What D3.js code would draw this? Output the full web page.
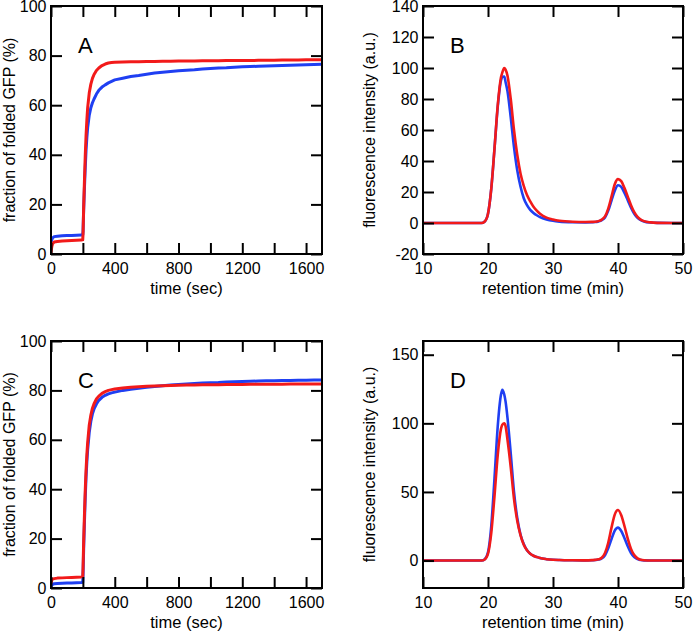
<!DOCTYPE html>
<html>
<head>
<meta charset="utf-8">
<script src="https://cdn.jsdelivr.net/npm/d3@7"></script>
<style>
  html, body { margin: 0; padding: 0; background: #fff; }
  svg { display: block; font-family: "Liberation Sans", Arial, Helvetica, sans-serif; }
</style>
</head>
<body>
<svg id="chart" width="693" height="634"></svg>
<script>
// ---------------- DATA ----------------
// Panels A and C: folding kinetics, time (sec)
const timeAC = [0,5,10,20,40,70,100,130,160,190,199,201,205,210,215,220,225,230,240,250,260,270,285,300,320,340,360,380,400,450,500,550,600,650,700,750,800,850,900,950,1000,1050,1100,1150,1200,1250,1300,1350,1400,1450,1500,1550,1600,1650,1700];
const aBlue = [4.5,5.8,6.5,7.0,7.2,7.4,7.5,7.5,7.6,7.7,7.7,9,18,27,35,42,47,51,56,59,61,62.5,64.5,66,67.3,68.2,69,69.6,70.2,70.9,71.6,72,72.5,73,73.3,73.6,73.9,74.1,74.3,74.6,74.8,75,75.1,75.3,75.5,75.6,75.7,75.8,75.9,76,76.1,76.2,76.3,76.4,76.5];
const aRed  = [0.5,3,4.2,4.8,5.0,5.2,5.3,5.4,5.5,5.6,5.7,8,19,30,40,48,54,59,65,68.5,70.8,72.4,74,75,76,76.6,77,77.2,77.3,77.4,77.5,77.5,77.6,77.6,77.7,77.7,77.8,77.8,77.8,77.9,77.9,77.9,78,78,78,78,78.1,78.1,78.1,78.2,78.2,78.2,78.3,78.3,78.3];
const cBlue = [0.5,1.2,1.5,1.7,1.8,1.9,2.0,2.0,2.1,2.2,2.3,5,16,27,37,45,51,56,63,67.5,70.5,72.5,74.5,76,77.2,78,78.6,79,79.3,80,80.5,80.9,81.3,81.6,81.9,82.2,82.4,82.6,82.8,83,83.1,83.2,83.4,83.5,83.6,83.7,83.8,83.9,83.9,84,84,84.1,84.1,84.2,84.2];
const cRed  = [2,3.2,3.6,3.8,4.0,4.1,4.2,4.3,4.4,4.5,4.6,8,19,30,40,48,54,59,66,70,72.8,74.6,76.5,77.7,78.8,79.5,80,80.3,80.6,81,81.3,81.5,81.7,81.8,81.9,82,82.1,82.2,82.2,82.3,82.3,82.3,82.4,82.4,82.4,82.5,82.5,82.5,82.5,82.5,82.6,82.6,82.6,82.6,82.6];

// Panels B and D: chromatograms, retention time (min)
const timeBD = [10,15,18,19,19.5,20,20.5,21,21.5,22,22.2,22.5,22.7,23,23.5,24,24.5,25,25.5,26,26.5,27,27.5,28,29,30,31,33,35,36,36.5,37,37.5,38,38.5,39,39.5,40,40.5,41,41.5,42,42.5,43,43.5,44,45,46,50];
const bBlue = [0,0,0,0,1,6,22,48,75,92,94.3,94.5,91,85,68,49,34,23.5,16,11.5,8.5,6.5,5,3.8,2.3,1.4,0.9,0.5,0.4,0.5,0.6,1.0,1.8,3.6,8,14.5,20.8,24.4,23.3,19.4,14.7,9.9,6,3.4,1.9,1,0.3,0.1,0];
const bRed  = [0,0,0,0,1,6,22,48,76,94,97,100,99,95,80,60,44,32,24,18,14,10.5,8,6,3.5,2.3,1.5,0.8,0.6,0.7,0.8,1.2,2.2,4.3,9.3,17,25,28.3,27,22.5,17,11.5,7,4,2.2,1.2,0.4,0.1,0];
const dBlue = [0,0,0,0,1,6,25,60,98,121,124.5,121,116,104,78,50,31,19,12,7.5,5,3.5,2.6,1.8,1,0.6,0.4,0.2,0.1,0.2,0.4,0.7,1.5,3.8,9,15.6,21.8,24,21.5,16.3,10.4,5.5,2.6,1,0.4,0.1,0,0,0];
const dRed  = [0,0,0,0,0.8,5,20,47,77,96,99,100,98,88,68,45,29,18.5,11.5,7.5,5,3.5,2.6,1.8,1,0.6,0.4,0.2,0.1,0.3,0.5,0.9,2,5.5,13,24,33.5,36.8,33,25,16,8.5,4,1.6,0.6,0.2,0,0,0];

// Tick values / labels
const ticksTimeX   = [0,200,400,600,800,1000,1200,1400,1600];
const labelsTimeX  = [0,400,800,1200,1600];
const ticksFracY   = [0,20,40,60,80,100];
const ticksRetX    = [10,20,30,40,50];
const ticksBY      = [-20,0,20,40,60,80,100,120,140];
const ticksDY      = [0,50,100,150];

// ---------------- LAYOUT ----------------
const svg = d3.select("#chart");
const BLUE = "#1f3ff2", RED = "#f21a1a";

const panels = [
  {letter:"A", l:51, r:322, t:6,   b:254, xd:[0,1700], yd:[0,100], xt:ticksTimeX, xl:labelsTimeX, yt:ticksFracY,
   xlab:"time (sec)", ylab:"fraction of folded GFP (%)", t0:timeAC, blue:aBlue, red:aRed, sw:3, curve:d3.curveLinear, ylx:15},
  {letter:"B", l:423, r:683, t:6, b:254, xd:[10,50], yd:[-20,140], xt:ticksRetX, xl:ticksRetX, yt:ticksBY,
   xlab:"retention time (min)", ylab:"fluorescence intensity (a.u.)", t0:timeBD, blue:bBlue, red:bRed, sw:2.6, curve:d3.curveMonotoneX, ylx:375},
  {letter:"C", l:51, r:322, t:341, b:588, xd:[0,1700], yd:[0,100], xt:ticksTimeX, xl:labelsTimeX, yt:ticksFracY,
   xlab:"time (sec)", ylab:"fraction of folded GFP (%)", t0:timeAC, blue:cBlue, red:cRed, sw:3, curve:d3.curveLinear, ylx:15},
  {letter:"D", l:423, r:683, t:341, b:588, xd:[10,50], yd:[-20,160], xt:ticksRetX, xl:ticksRetX, yt:ticksDY,
   xlab:"retention time (min)", ylab:"fluorescence intensity (a.u.)", t0:timeBD, blue:dBlue, red:dRed, sw:2.6, curve:d3.curveMonotoneX, ylx:375}
];

panels.forEach(p => {
  const x = d3.scaleLinear().domain(p.xd).range([p.l, p.r]);
  const y = d3.scaleLinear().domain(p.yd).range([p.b, p.t]);
  const g = svg.append("g");

  const clipId = "clip" + p.letter;
  svg.append("clipPath").attr("id", clipId).append("rect")
    .attr("x", p.l).attr("y", p.t).attr("width", p.r - p.l).attr("height", p.b - p.t);

  const line = d3.line().x((d,i) => x(p.t0[i])).y(d => y(d)).curve(p.curve);
  const plot = g.append("g").attr("clip-path", `url(#${clipId})`);
  plot.append("path").datum(p.blue).attr("d", line).attr("fill","none")
    .attr("stroke", BLUE).attr("stroke-width", p.sw).attr("stroke-linejoin","round");
  plot.append("path").datum(p.red).attr("d", line).attr("fill","none")
    .attr("stroke", RED).attr("stroke-width", p.sw).attr("stroke-linejoin","round");

  const fmtX = d => p.xl.includes(d) ? d : "";
  const TS = 11;
  const styleAxis = sel => {
    sel.select(".domain").remove();
    sel.selectAll(".tick line").attr("stroke","#000").attr("stroke-width",2);
    sel.selectAll(".tick text").attr("fill","#000").attr("font-size", 16)
      .attr("font-family", '"Liberation Sans", Arial, Helvetica, sans-serif');
  };
  g.append("g").attr("transform", `translate(0,${p.b})`)
    .call(d3.axisBottom(x).tickValues(p.xt).tickFormat(fmtX).tickSize(-TS).tickPadding(9)).call(styleAxis);
  g.append("g").attr("transform", `translate(0,${p.t})`)
    .call(d3.axisTop(x).tickValues(p.xt).tickFormat("").tickSize(-TS)).call(styleAxis);
  g.append("g").attr("transform", `translate(${p.l},0)`)
    .call(d3.axisLeft(y).tickValues(p.yt).tickFormat(d => d).tickSize(-TS).tickPadding(4.5)).call(styleAxis);
  g.append("g").attr("transform", `translate(${p.r},0)`)
    .call(d3.axisRight(y).tickValues(p.yt).tickFormat("").tickSize(-TS)).call(styleAxis);

  g.append("rect").attr("x", p.l).attr("y", p.t).attr("width", p.r - p.l).attr("height", p.b - p.t)
    .attr("fill","none").attr("stroke","#000").attr("stroke-width",2);

  g.append("text").attr("x", (p.l + p.r) / 2).attr("y", p.b + 40).attr("text-anchor","middle")
    .attr("font-size", 16.5).text(p.xlab);
  g.append("text").attr("transform", `translate(${p.ylx},${(p.t + p.b) / 2}) rotate(-90)`)
    .attr("text-anchor","middle").attr("font-size", 16).text(p.ylab);
  g.append("text").attr("x", p.l + 27).attr("y", p.t + 47).attr("font-size", 22).text(p.letter);
});
</script>
</body>
</html>
